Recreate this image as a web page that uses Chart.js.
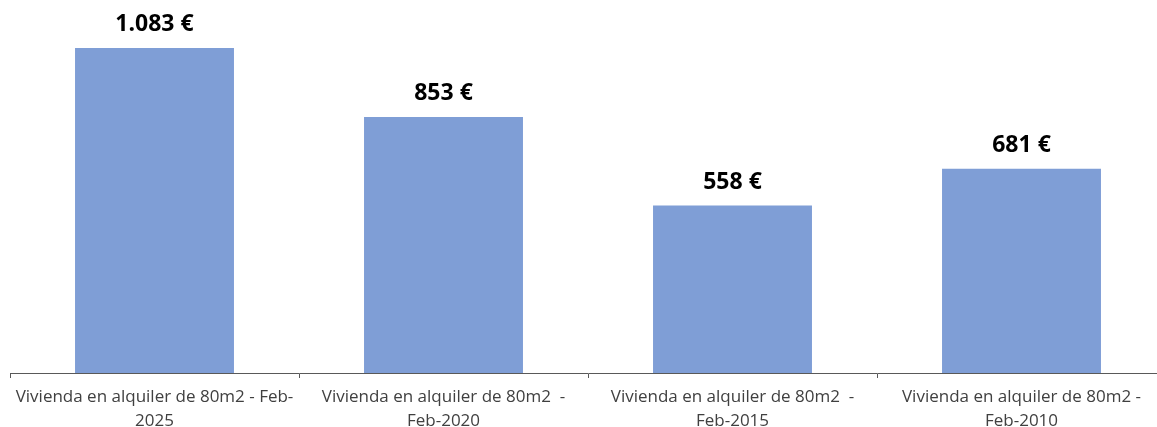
<!DOCTYPE html>
<html>
<head>
<meta charset="utf-8">
<script src="https://cdn.jsdelivr.net/npm/chart.js@4/dist/chart.umd.min.js"></script>
<style>
  html, body { margin: 0; padding: 0; background: #fff; overflow: hidden; }
  #wrap { width: 1157px; height: 427px; overflow: hidden; }
</style>
</head>
<body>
<div id="wrap"><canvas id="rentChart" width="1166" height="427"></canvas></div>
<script>
// alquiler medio de una vivienda de 80m2, en euros
const categories = [
    ['Vivienda en alquiler de 80m2 - Feb-', '2025'],
    ['Vivienda en alquiler de 80m2  -', 'Feb-2020'],
    ['Vivienda en alquiler de 80m2  -', 'Feb-2015'],
    ['Vivienda en alquiler de 80m2 -', 'Feb-2010']
];
const rents = [1083, 853, 558, 681];
const yMax = 1200;

function euro(v) {
    return String(v).replace(/\B(?=(\d{3})+(?!\d))/g, '.') + ' €';
}

const valueLabels = {
    id: 'valueLabels',
    afterDatasetsDraw(chart) {
        const ctx = chart.ctx;
        const meta = chart.getDatasetMeta(0);
        ctx.save();
        ctx.font = 'bold 23px "Open Sans"';
        ctx.fillStyle = '#000';
        ctx.textAlign = 'center';
        ctx.textBaseline = 'middle';
        meta.data.forEach((bar, i) => {
            ctx.fillText(euro(rents[i]), bar.x, bar.y - 23.5);
        });
        ctx.restore();
    }
};

new Chart(document.getElementById('rentChart').getContext('2d'), {
    type: 'bar',
    data: {
        labels: categories,
        datasets: [{
            data: rents,
            backgroundColor: '#7F9ED6',
            borderWidth: 0,
            barPercentage: 0.55,
            categoryPercentage: 1
        }]
    },
    options: {
        responsive: false,
        animation: false,
        layout: { padding: { top: 13, left: 10, right: 0, bottom: 0 } },
        plugins: { legend: { display: false }, tooltip: { enabled: false } },
        scales: {
            x: {
                afterFit(scale) { scale.height = 54; },
                grid: { drawOnChartArea: false, tickLength: 5, color: '#595959' },
                border: { color: '#595959', width: 1 },
                ticks: {
                    color: '#404040',
                    padding: 7,
                    maxRotation: 0,
                    autoSkip: false,
                    font: { family: '"Open Sans"', size: 17, lineHeight: 1.42 }
                }
            },
            y: {
                display: false,
                min: 0,
                max: yMax
            }
        }
    },
    plugins: [valueLabels]
});
</script>
</body>
</html>
